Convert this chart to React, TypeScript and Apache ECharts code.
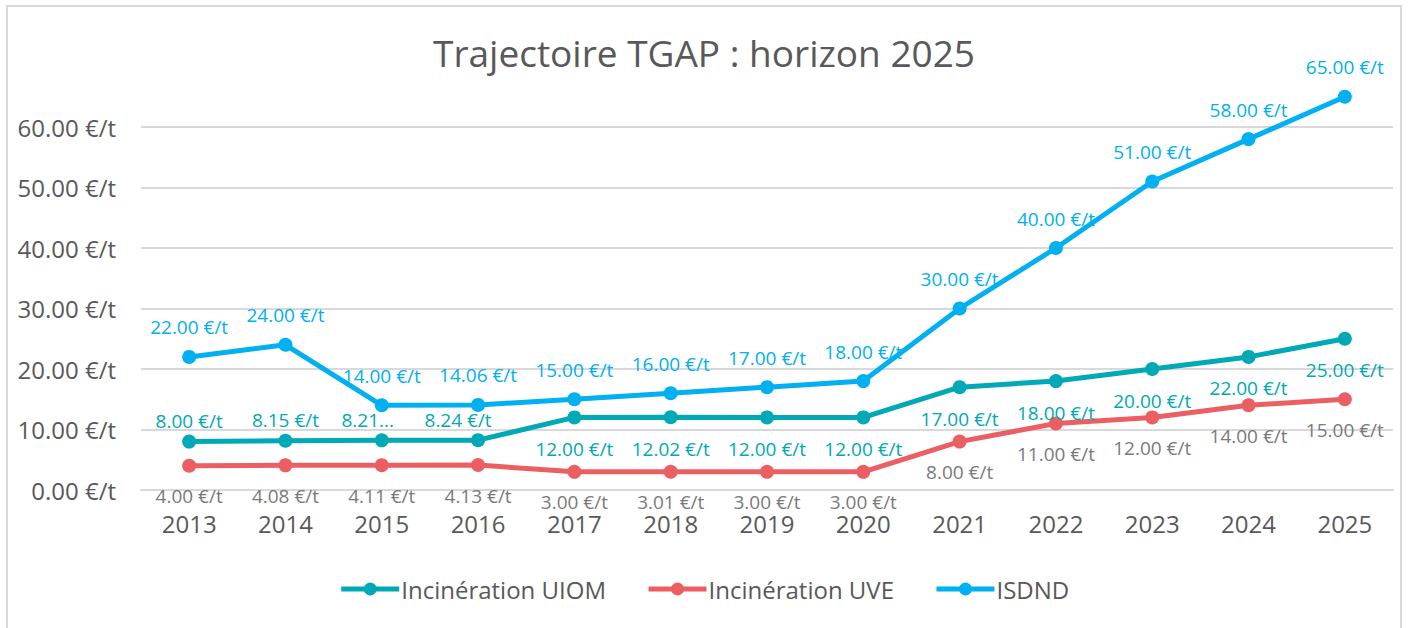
import React, { useEffect, useRef } from "react";
import * as echarts from "echarts";

const years = ["2013", "2014", "2015", "2016", "2017", "2018", "2019", "2020", "2021", "2022", "2023", "2024", "2025"];
const uiomValues = [8.0, 8.15, 8.21, 8.24, 12.0, 12.02, 12.0, 12.0, 17.0, 18.0, 20.0, 22.0, 25.0];
const uveValues = [4.0, 4.08, 4.11, 4.13, 3.0, 3.01, 3.0, 3.0, 8.0, 11.0, 12.0, 14.0, 15.0];
const isdndValues = [22.0, 24.0, 14.0, 14.06, 15.0, 16.0, 17.0, 18.0, 30.0, 40.0, 51.0, 58.0, 65.0];
const yTicks = [0, 10, 20, 30, 40, 50, 60, 70];
const seriesNames = ["Incinération UIOM", "Incinération UVE", "ISDND"];
const titleText = "Trajectoire TGAP : horizon 2025";

const FONT = "'Open Sans', 'Noto Sans', sans-serif";
const C_UIOM = "#00A9B5";
const C_UVE = "#EB5F63";
const C_ISDND = "#00B0F0";
const C_TEXT = "#595959";
const C_GRID = "#d9d9d9";

const fmt = (v: number) => `${v.toFixed(2)} €/t`;

export default function App() {
  const ref = useRef<HTMLDivElement>(null);
  useEffect(() => {
    document.body.style.margin = "0";
    const chart = echarts.init(ref.current!, undefined, { renderer: "svg" });
    const labelBase = { show: true, fontFamily: FONT, fontSize: 19 };
    chart.setOption({
      animation: false,
      textStyle: { fontFamily: FONT },
      title: {
        text: titleText,
        left: "center",
        top: 29,
        textStyle: { fontFamily: FONT, fontSize: 37, fontWeight: "normal", color: C_TEXT },
      },
      graphic: [
        {
          type: "rect",
          shape: { x: 7, y: 6, width: 1394, height: 640 },
          style: { fill: "none", stroke: C_GRID, lineWidth: 2 },
          silent: true,
        },
      ],
      legend: {
        bottom: 22,
        left: "center",
        itemWidth: 58,
        itemHeight: 16,
        itemGap: 40,
        lineStyle: { width: 5 },
        textStyle: { fontFamily: FONT, fontSize: 24, color: C_TEXT, padding: [0, 0, 0, -3] },
        data: seriesNames,
      },
      grid: { left: 141, right: 15, top: 66.5, bottom: 138, containLabel: false },
      xAxis: {
        type: "category",
        data: years,
        boundaryGap: true,
        axisLine: { show: true, lineStyle: { color: C_GRID, width: 2 } },
        axisTick: { show: false },
        axisLabel: { fontFamily: FONT, fontSize: 24, color: C_TEXT, margin: 21 },
      },
      yAxis: {
        type: "value",
        min: yTicks[0],
        max: yTicks[yTicks.length - 1],
        interval: 10,
        axisLine: { show: false },
        axisTick: { show: false },
        axisLabel: {
          fontFamily: FONT,
          fontSize: 24,
          color: C_TEXT,
          margin: 25,
          formatter: (v: number) => (v >= yTicks[yTicks.length - 1] ? "" : fmt(v)),
        },
        splitLine: {
          show: true,
          lineStyle: {
            width: 2,
            color: yTicks.map((t, i) => (i === yTicks.length - 1 ? "rgba(0,0,0,0)" : C_GRID)),
          },
        },
      },
      series: [
        {
          name: seriesNames[0],
          type: "line",
          data: uiomValues.map((v, i) => ({
            value: v,
            label:
              i < 4
                ? { position: "top", distance: 4, offset: i === 2 ? [-14, 0] : i === 3 ? [-20, 0] : [0, 0] }
                : { position: "bottom", distance: 15 },
          })),
          color: C_UIOM,
          lineStyle: { width: 5, color: C_UIOM },
          symbol: "circle",
          symbolSize: 14,
          z: 3,
          label: {
            ...labelBase,
            color: C_UIOM,
            formatter: (p: any) => (p.dataIndex === 2 ? "8.21..." : fmt(p.value)),
          },
        },
        {
          name: seriesNames[1],
          type: "line",
          data: uveValues,
          color: C_UVE,
          lineStyle: { width: 5, color: C_UVE },
          symbol: "circle",
          symbolSize: 14,
          z: 2,
          label: { ...labelBase, position: "bottom", distance: 14, color: "#7a7a7a", formatter: (p: any) => fmt(p.value) },
        },
        {
          name: seriesNames[2],
          type: "line",
          data: isdndValues,
          color: C_ISDND,
          lineStyle: { width: 5, color: C_ISDND },
          symbol: "circle",
          symbolSize: 14,
          z: 4,
          label: { ...labelBase, position: "top", distance: 13, color: C_ISDND, formatter: (p: any) => fmt(p.value) },
        },
      ],
    });
    return () => chart.dispose();
  }, []);
  return <div ref={ref} style={{ width: 1408, height: 628 }} />;
}
